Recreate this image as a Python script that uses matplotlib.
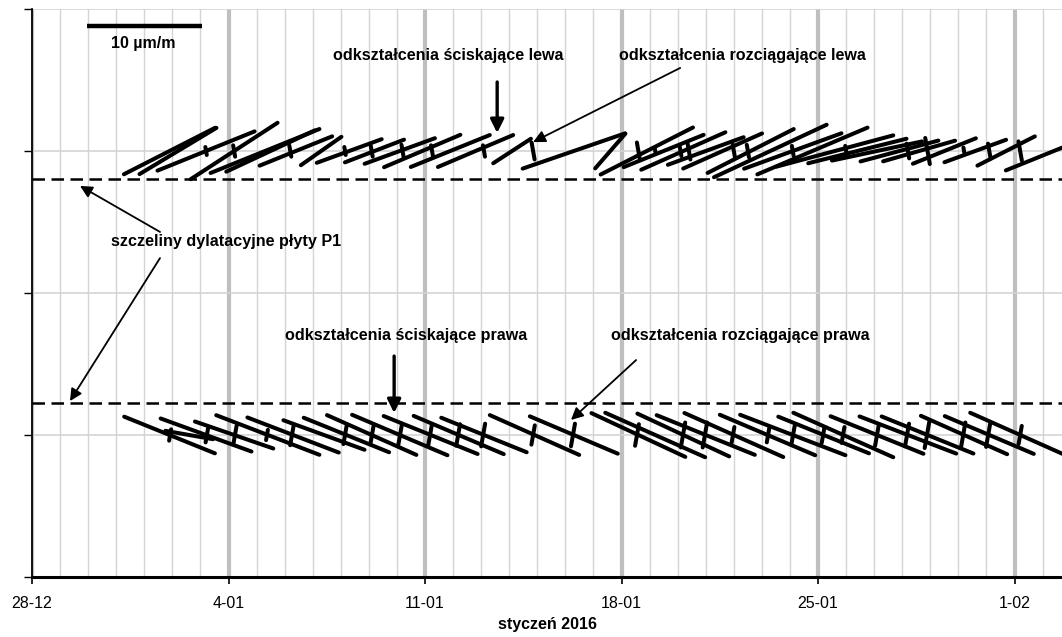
import numpy as np
import matplotlib
matplotlib.use('Agg')
import matplotlib.pyplot as plt
from matplotlib.collections import LineCollection
from matplotlib import font_manager

# ---------------- data ----------------
# x positions: days counted from 28-12-2015 00:00
tick_days = [0, 7, 14, 21, 28, 35]
tick_labels = ['28-12', '4-01', '11-01', '18-01', '25-01', '1-02']
x_label = 'styczeń 2016'

level_left = 3.0      # row of the left side gauge
level_right = 1.0     # row of the right side gauge
joint_left = 2.80     # expansion joint (upper dashed line)
joint_right = 1.225   # expansion joint (lower dashed line)

# compressive strains, left (time, magnitude um/m, direction deg)
left_c_t = [4.9, 5.2, 6.2, 7.2, 8.3, 8.5, 9.4, 10.3, 11.3, 12.2,
            13.1, 13.9, 14.9, 15.8, 17.1, 19.3, 20.6, 21.9, 22.5, 23.2,
            24.0, 24.6, 25.6, 26.3, 27.1, 27.8, 28.6, 29.4, 30.1, 30.9,
            31.6, 32.5, 33.6, 34.7, 36.4]
left_c_val = [8.9, 7.8, 9.1, 9.0, 10.2, 8.5, 6.8, 4.3, 6.0, 5.5,
              6.5, 7.2, 7.4, 7.1, 3.9, 9.4, 4.0, 9.0, 7.5, 8.0,
              7.0, 7.5, 8.4, 10.8, 9.0, 10.4, 10.5, 8.8, 8.0, 7.0,
              6.5, 5.9, 5.7, 5.6, 9.0]
left_c_dir = [27, 31, 22, 33, 22, 25, 22, 35, 20, 21,
              20, 23, 22, 23, 33, 19, 49, 27, 22, 24,
              20, 24, 27, 25, 20, 23, 15, 14, 12, 15,
              16, 22, 20, 27, 22]

# tensile strains, left
left_t_t = [6.2, 7.2, 9.2, 11.15, 12.1, 13.2, 14.25, 16.1, 17.85, 21.6,
            22.2, 23.1, 23.4, 25.0, 25.5, 27.1, 29.0, 31.2, 31.9, 33.2,
            34.1, 35.2]
left_t_val = [0.7, 1.0, 1.0, 0.7, 1.0, 1.1, 1.0, 1.0, 1.5, 1.5,
              0.5, 0.9, 1.5, 1.1, 1.1, 0.9, 0.9, 1.3, 2.3, 0.6,
              1.3, 1.7]
left_t_dir = 100

# compressive strains, right
right_c_t = [4.9, 5.6, 6.2, 7.2, 8.4, 9.3, 10.4, 11.2, 12.1, 13.1,
             14.2, 15.2, 16.1, 17.9, 19.3, 21.6, 22.2, 23.2, 24.0, 25.0,
             26.2, 27.1, 28.2, 28.9, 30.1, 31.2, 31.9, 33.2, 34.1, 35.2]
right_c_val = [8.5, 4.2, 8.4, 7.2, 9.6, 8.5, 7.5, 8.0, 8.5, 9.0,
               8.8, 8.5, 8.0, 8.5, 8.3, 9.0, 9.5, 8.8, 9.2, 9.4,
               9.0, 9.8, 8.5, 9.5, 8.7, 9.0, 8.6, 8.2, 8.4, 9.5]
right_c_dir = [-22, -10, -20, -19, -21, -21, -20, -22, -24, -23,
               -22, -23, -22, -24, -23, -25, -24, -25, -22, -24,
               -23, -21, -22, -24, -22, -21, -22, -24, -23, -24]

# tensile strains, right
right_t_t = [4.92, 6.23, 7.23, 8.37, 9.26, 11.15, 12.11, 13.11, 14.18, 15.18,
             16.07, 17.85, 19.27, 21.55, 23.19, 23.97, 24.97, 26.22, 27.11, 28.18,
             28.89, 30.10, 31.17, 31.88, 33.17, 34.06, 35.2]
right_t_val = [1.0, 1.3, 1.6, 0.9, 1.8, 1.6, 1.6, 1.9, 1.9, 1.9,
               2.0, 1.7, 2.0, 1.9, 2.2, 2.2, 1.4, 1.3, 1.6, 1.4,
               1.4, 1.9, 2.0, 2.3, 2.2, 2.1, 1.6]
right_t_dir = 80

scale_val = 10.0          # um/m shown by the scale bar
scale_days = 4.1          # x extent (days) of 10 um/m

# ---------------- figure ----------------
W, H = 1062, 637
fig = plt.figure(figsize=(W / 100, H / 100), dpi=100)
ax = fig.add_axes([32 / W, 60 / H, 1030 / W, 568 / H])
ax.set_xlim(0, 36.69)
ax.set_ylim(0, 4)

# conversion of um/m into data units (equal length in pixels along x and y)
px_x = 1030 / 36.69
px_y = 568 / 4
ux = scale_days / scale_val
uy = ux * px_x / px_y


def segs(t, val, ang, level):
    t = np.asarray(t, float)
    val = np.asarray(val, float)
    ang = np.deg2rad(np.broadcast_to(np.asarray(ang, float), t.shape))
    dx = 0.5 * val * np.cos(ang) * ux
    dy = 0.5 * val * np.sin(ang) * uy
    return [[(a - b, level - c), (a + b, level + c)] for a, b, c in zip(t, dx, dy)]


lw = 2.9
for t, v, a, lev in [(left_c_t, left_c_val, left_c_dir, level_left),
                     (left_t_t, left_t_val, left_t_dir, level_left),
                     (right_c_t, right_c_val, right_c_dir, level_right),
                     (right_t_t, right_t_val, right_t_dir, level_right)]:
    lc = LineCollection(segs(t, v, a, lev), colors='black', linewidths=lw,
                        capstyle='round', zorder=4)
    ax.add_collection(lc)

# scale bar
ax.add_collection(LineCollection(segs([4.0], [scale_val], [0], 3.88),
                                 colors='black', linewidths=3.2, zorder=4))
ax.text(3.95, 3.755, '10 µm/m', ha='center', va='center', fontsize=11.5,
        fontweight='bold', family='Liberation Sans')

# dashed expansion joints
for y in (joint_left, joint_right):
    ax.axhline(y, color='black', lw=1.8, ls=(0, (5, 2.6)), zorder=3)

# grid
ax.set_xticks(tick_days)
ax.set_xticks(np.arange(0, 37), minor=True)
ax.set_yticks([0, 1, 2, 3, 4])
ax.set_yticklabels([])
ax.grid(which='minor', axis='x', color='#d4d4d4', lw=1.0, zorder=0)
ax.grid(which='major', axis='x', color='#bfbfbf', lw=3.0, zorder=0)
ax.grid(which='major', axis='y', color='#d4d4d4', lw=1.2, zorder=0)
ax.set_axisbelow(True)

narrow = 'Liberation Sans Narrow'
avail = {f.name for f in font_manager.fontManager.ttflist}
if narrow not in avail:
    narrow = 'Liberation Sans'

ax.set_xticklabels(tick_labels, family=narrow, fontsize=11.5)
ax.tick_params(axis='x', which='major', length=5, width=1.2, direction='out', pad=9)
ax.tick_params(axis='x', which='minor', length=0)
ax.tick_params(axis='y', which='major', length=6, width=1.0, direction='out')
ax.set_xlabel(x_label, family=narrow, fontweight='bold', fontsize=11.5, labelpad=4)

for s in ('top', 'right'):
    ax.spines[s].set_visible(False)
ax.spines['left'].set_linewidth(1.3)
ax.spines['bottom'].set_linewidth(2.2)

# annotations
tf = dict(fontsize=11.6, fontweight='bold', family='Liberation Sans', ha='center', va='center')
ax.text(14.82, 3.676, 'odkształcenia ściskające lewa', **tf)
ax.text(25.29, 3.676, 'odkształcenia rozciągające lewa', **tf)
ax.text(6.91, 2.366, 'szczeliny dylatacyjne płyty P1', **tf)
ax.text(13.32, 1.704, 'odkształcenia ściskające prawa', **tf)
ax.text(25.22, 1.704, 'odkształcenia rozciągające prawa', **tf)

thick = dict(arrowstyle='-|>', lw=2.4, color='black', mutation_scale=20, shrinkA=0, shrinkB=0)
thin = dict(arrowstyle='-|>', lw=1.3, color='black', mutation_scale=18, shrinkA=0, shrinkB=0)
ax.annotate('', xy=(16.57, 3.127), xytext=(16.57, 3.486), arrowprops=thick, zorder=5)
ax.annotate('', xy=(17.85, 3.063), xytext=(23.09, 3.585), arrowprops=thin, zorder=5)
ax.annotate('', xy=(1.71, 2.754), xytext=(4.56, 2.43), arrowprops=thin, zorder=5)
ax.annotate('', xy=(1.354, 1.239), xytext=(4.56, 2.246), arrowprops=thin, zorder=5)
ax.annotate('', xy=(12.9, 1.155), xytext=(12.9, 1.556), arrowprops=thick, zorder=5)
ax.annotate('', xy=(19.2, 1.106), xytext=(21.52, 1.528), arrowprops=thin, zorder=5)

fig.savefig('out.png', dpi=100)
